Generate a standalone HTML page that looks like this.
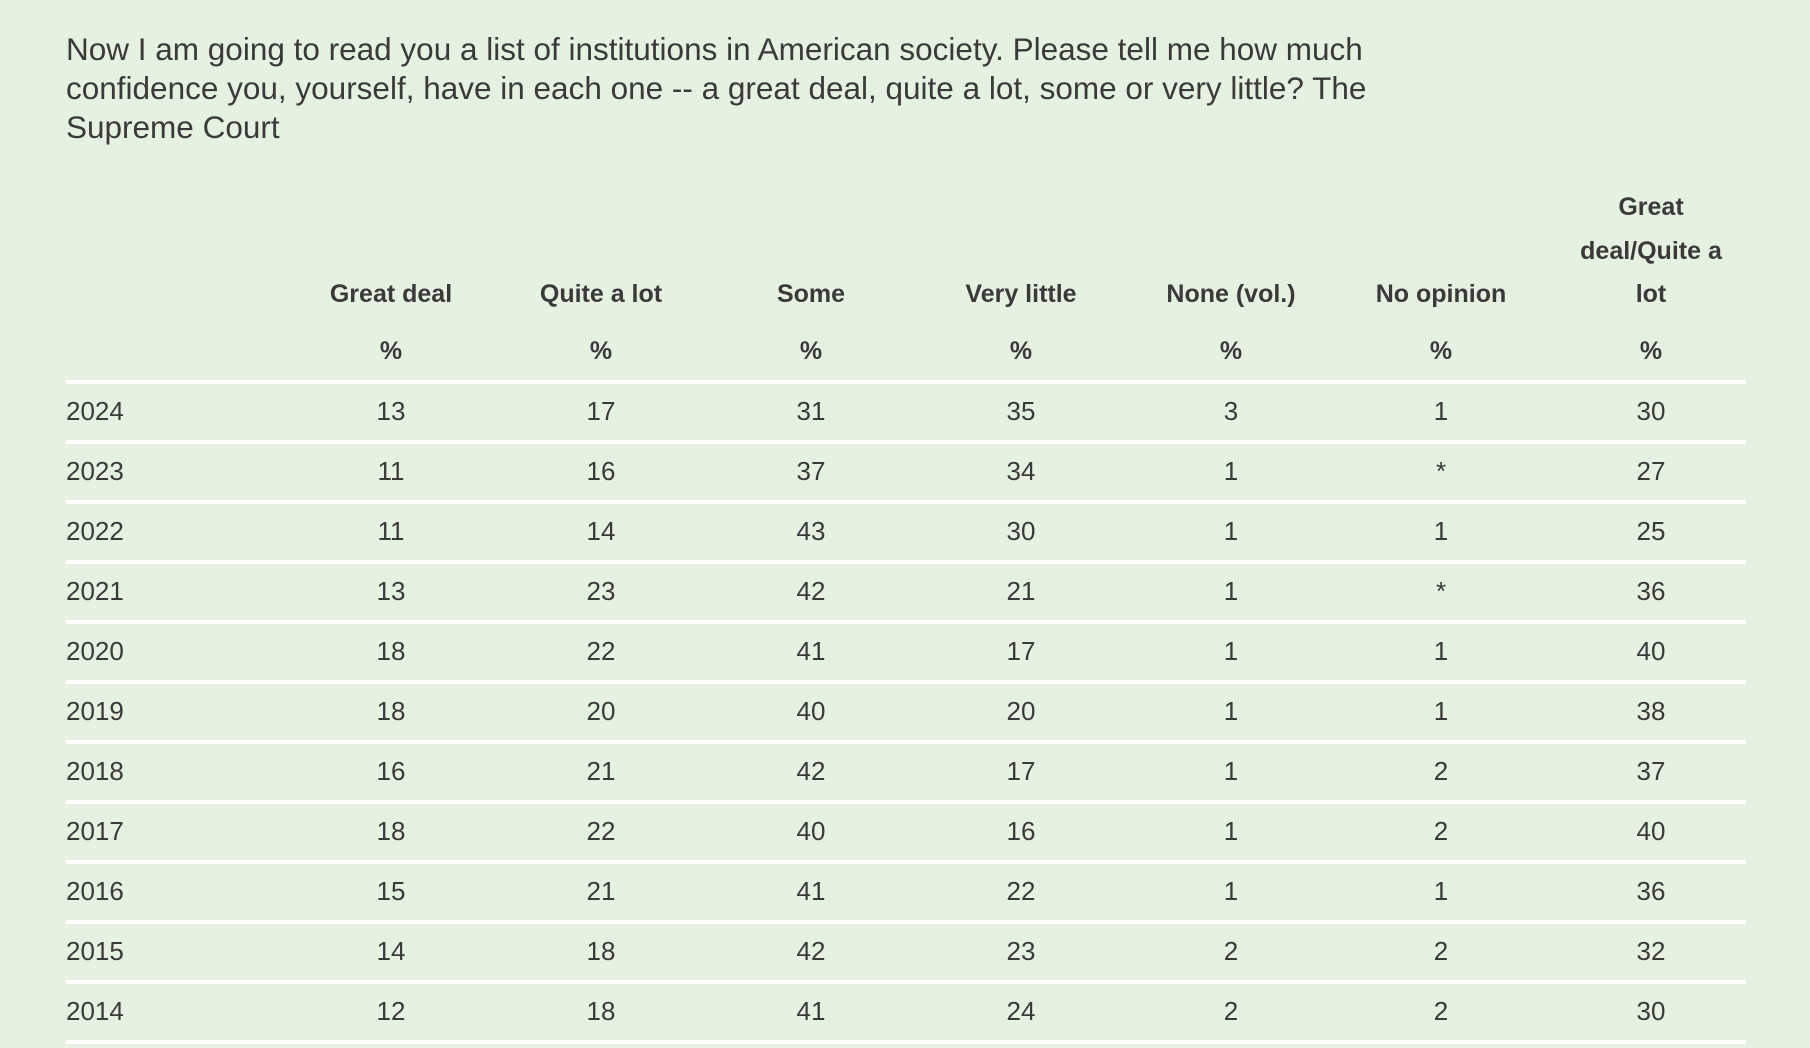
<!DOCTYPE html>
<html><head><meta charset="utf-8"><style>
html,body{margin:0;padding:0}
body{width:1810px;height:1048px;background:#e5f1e1;font-family:"Liberation Sans",Arial,sans-serif;color:#333;position:relative;overflow:hidden}
.t{position:absolute;left:66px;top:30px;font-size:31.5px;line-height:39px;color:#3a3a3a;letter-spacing:0px}
.c{position:absolute;width:210px;text-align:center;transform:translateX(-105px);white-space:nowrap}
.h{font-weight:bold;font-size:25px;color:#3a3a3a}
.d{font-size:26px;color:#3a3a3a}
.y{position:absolute;left:66px;font-size:26px;color:#3a3a3a}
.l{position:absolute;left:66px;width:1680px;height:4px;background:#fff}
</style></head><body>
<div class="t">Now I am going to read you a list of institutions in American society. Please tell me how much<br>confidence you, yourself, have in each one -- a great deal, quite a lot, some or very little? The<br>Supreme Court</div>
<div id="tb"></div>
<script>
(function(){
var cx=[391,601,811,1021,1231,1441,1651];
var hd=["Great deal","Quite a lot","Some","Very little","None (vol.)","No opinion","lot"];
var h="";
for(var i=0;i<7;i++){h+='<div class="c h" style="left:'+cx[i]+'px;top:280px">'+hd[i]+'</div>';h+='<div class="c h" style="left:'+cx[i]+'px;top:337px">%</div>';}
h+='<div class="c h" style="left:1651px;top:193px">Great</div><div class="c h" style="left:1651px;top:237px">deal/Quite a</div>';
var rows=[["2024",13,17,31,35,3,1,30],["2023",11,16,37,34,1,"*",27],["2022",11,14,43,30,1,1,25],["2021",13,23,42,21,1,"*",36],["2020",18,22,41,17,1,1,40],["2019",18,20,40,20,1,1,38],["2018",16,21,42,17,1,2,37],["2017",18,22,40,16,1,2,40],["2016",15,21,41,22,1,1,36],["2015",14,18,42,23,2,2,32],["2014",12,18,41,24,2,2,30]];
for(var k=0;k<12;k++){h+='<div class="l" style="top:'+(380+60*k)+'px"></div>';}
for(var r=0;r<rows.length;r++){var yy=396+60*r;h+='<div class="y" style="top:'+yy+'px">'+rows[r][0]+'</div>';for(var i=0;i<7;i++){h+='<div class="c d" style="left:'+cx[i]+'px;top:'+yy+'px">'+rows[r][i+1]+'</div>';}}
document.getElementById("tb").innerHTML=h;
})();
</script>
</body></html>
